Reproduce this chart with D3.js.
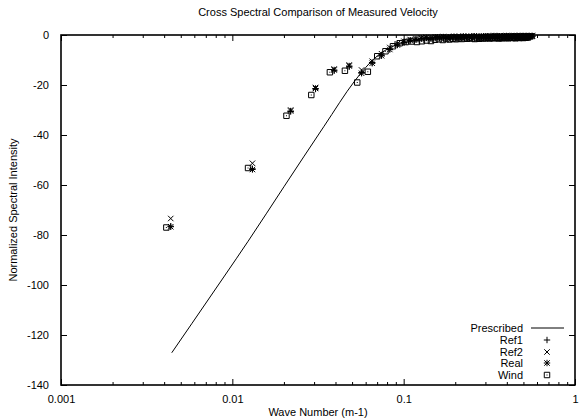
<!DOCTYPE html>
<html><head><meta charset="utf-8">
<script src="https://cdn.jsdelivr.net/npm/d3@7"></script>
<style>
body{margin:0;background:#fff}
text{font-family:"Liberation Sans",Arial,Helvetica,sans-serif;font-size:11px;fill:#000}
</style>
</head><body>
<svg id="chart" width="581" height="419"></svg>
<script>
// ---- data ----
const title = "Cross Spectral Comparison of Measured Velocity";
const xLabel = "Wave Number (m-1)";
const yLabel = "Normalized Spectral Intensity";
const xMajorTicks = [0.001, 0.01, 0.1, 1];
const xTickLabels = ["0.001", "0.01", "0.1", "1"];
const yTicks = [0, -20, -40, -60, -80, -100, -120, -140];
const seriesNames = ["Prescribed", "Ref1", "Ref2", "Real", "Wind"];

const presK = [0.00443, 0.00582, 0.00908, 0.01236, 0.0201, 0.0343, 0.0519, 0.0600, 0.0665, 0.0750, 0.0834, 0.1, 0.13, 0.18, 0.25, 0.35, 0.45, 0.56];
const presY = [-127.1, -115.3, -96.0, -82.5, -60.5, -36.5, -18.3, -13.0, -9.8, -6.9, -5.0, -3.0, -2.0, -1.4, -1.0, -0.8, -0.6, -0.5];

const kRef = [0.00437,0.0131,0.0219,0.0306,0.0393,0.0481,0.0568,0.0655,0.0743,0.0830,0.0918,0.1005,0.1092,0.1180,0.1267,0.1355,0.1442,0.1530,0.1617,0.1704,0.1792,0.1879,0.1967,0.2054,0.2142,0.2229,0.2316,0.2404,0.2491,0.2579,0.2666,0.2754,0.2841,0.2928,0.3016,0.3103,0.3191,0.3278,0.3366,0.3453,0.3540,0.3628,0.3715,0.3803,0.3890,0.3978,0.4065,0.4152,0.4240,0.4327,0.4415,0.4502,0.4590,0.4677,0.4764,0.4852,0.4939,0.5027,0.5114,0.5202,0.5289,0.5376,0.5464,0.5551,0.5639];
const kWind = [0.00412,0.01235,0.0207,0.0289,0.0371,0.0454,0.0536,0.0618,0.0701,0.0783,0.0866,0.0948,0.1030,0.1113,0.1195,0.1278,0.1360,0.1443,0.1525,0.1607,0.1690,0.1772,0.1855,0.1937,0.2020,0.2102,0.2184,0.2267,0.2349,0.2432,0.2514,0.2597,0.2679,0.2761,0.2844,0.2926,0.3009,0.3091,0.3174,0.3256,0.3338,0.3421,0.3503,0.3586,0.3668,0.3751,0.3833,0.3915,0.3998,0.4080,0.4163,0.4245,0.4328,0.4410,0.4492,0.4575,0.4657,0.4740,0.4822,0.4905,0.4987,0.5069,0.5152,0.5234,0.5317];

const ref1 = [-76.5,-53.5,-30.6,-21.6,-14.3,-12.7,-15.0,-11.0,-8.0,-5.6,-3.9,-2.9,-2.1,-1.7,
 -1.3,-1.1,-1.2,-0.9,-1.0,-0.8,-1.1,-0.9,-0.7,-1.0,-0.8,-0.6,-0.9,-0.7,-0.8,-0.5,-0.7,-0.9,-0.6,-0.8,
 -0.5,-0.7,-0.6,-0.8,-0.4,-0.6,-0.7,-0.5,-0.6,-0.8,-0.5,-0.4,-0.6,-0.7,-0.5,-0.6,-0.4,-0.5,-0.7,-0.6,
 -0.4,-0.5,-0.6,-0.4,-0.5,-0.6,-0.5,-0.4,-0.6,-0.5,-0.4];
const ref2 = [-73.4,-51.3,-30.0,-21.0,-13.6,-12.0,-14.0,-10.5,-7.5,-5.0,-3.5,-2.5,-1.8,-1.4,
 -1.1,-0.9,-1.0,-0.7,-0.8,-0.6,-0.9,-0.7,-0.5,-0.8,-0.6,-0.4,-0.7,-0.5,-0.6,-0.3,-0.5,-0.7,-0.4,-0.6,
 -0.3,-0.5,-0.4,-0.6,-0.2,-0.4,-0.5,-0.3,-0.4,-0.6,-0.3,-0.2,-0.4,-0.5,-0.3,-0.4,-0.2,-0.3,-0.5,-0.4,
 -0.2,-0.3,-0.4,-0.2,-0.3,-0.4,-0.3,-0.2,-0.4,-0.3,-0.2];
const real = [-76.7,-53.8,-30.4,-21.4,-14.0,-12.4,-15.3,-11.3,-8.3,-5.8,-4.0,-3.0,-2.2,-1.8,
 -1.4,-1.2,-1.3,-1.0,-1.1,-0.9,-1.2,-1.0,-0.8,-1.1,-0.9,-0.7,-1.0,-0.8,-0.9,-0.6,-0.8,-1.0,-0.7,-0.9,
 -0.6,-0.8,-0.7,-0.9,-0.5,-0.7,-0.8,-0.6,-0.7,-0.9,-0.6,-0.5,-0.7,-0.8,-0.6,-0.7,-0.5,-0.6,-0.8,-0.7,
 -0.5,-0.6,-0.7,-0.5,-0.6,-0.7,-0.6,-0.5,-0.7,-0.6,-0.5];
const wind = [-77.0,-53.2,-32.3,-24.0,-14.9,-14.3,-19.0,-14.7,-8.5,-6.5,-4.5,-3.3,-2.8,-2.6,
 -2.8,-2.5,-2.2,-2.4,-1.9,-1.7,-2.0,-1.6,-1.8,-1.5,-1.7,-1.4,-1.6,-1.3,-1.5,-1.2,-1.4,-1.6,-1.3,-1.5,
 -1.2,-1.4,-1.3,-1.1,-1.4,-1.2,-1.3,-1.1,-1.2,-1.4,-1.1,-1.3,-1.2,-1.0,-1.2,-1.3,-1.1,-1.0,-1.2,-1.1,
 -1.3,-1.0,-1.1,-1.2,-1.0,-1.1,-1.2,-1.0,-1.1,-0.9,-1.0];

// ---- layout ----
const svg = d3.select("#chart");
const L = 61, R = 575, T = 35, B = 385;
const x = d3.scaleLog().domain([0.001, 1]).range([L, R]);
const y = d3.scaleLinear().domain([-140, 0]).range([B, T]);

const zip = (ks, vs) => d3.range(Math.min(ks.length, vs.length)).map(i => ({k: ks[i], v: vs[i]}));

const allTicks = x.ticks();
const minorTicks = allTicks.filter(t => !xMajorTicks.some(m => Math.abs(m - t) / m < 1e-9));
const lblMap = new Map(xMajorTicks.map((t, i) => [t, xTickLabels[i]]));

function styleAxis(g) {
  g.select(".domain").remove();
  g.selectAll(".tick line").attr("stroke", "#000").attr("stroke-width", 1);
  g.selectAll("text").attr("font-family", '"Liberation Sans",Arial,sans-serif').attr("font-size", 11).attr("fill", "#000");
}

svg.append("g").attr("transform", `translate(0,${B})`)
  .call(d3.axisBottom(x).tickValues(xMajorTicks).tickSize(-6).tickPadding(10).tickFormat(d => lblMap.get(d)))
  .call(styleAxis);
svg.append("g").attr("transform", `translate(0,${B})`)
  .call(d3.axisBottom(x).tickValues(minorTicks).tickSize(-3).tickFormat(""))
  .call(styleAxis);
svg.append("g").attr("transform", `translate(0,${T})`)
  .call(d3.axisTop(x).tickValues(xMajorTicks).tickSize(-6).tickFormat(""))
  .call(styleAxis);
svg.append("g").attr("transform", `translate(0,${T})`)
  .call(d3.axisTop(x).tickValues(minorTicks).tickSize(-3).tickFormat(""))
  .call(styleAxis);
svg.append("g").attr("transform", `translate(${L},0)`)
  .call(d3.axisLeft(y).tickValues(yTicks).tickSize(-6).tickPadding(12).tickFormat(d => String(d)))
  .call(styleAxis);
svg.append("g").attr("transform", `translate(${R},0)`)
  .call(d3.axisRight(y).tickValues(yTicks).tickSize(-6).tickFormat(""))
  .call(styleAxis);

svg.append("rect").attr("x", L).attr("y", T).attr("width", R - L).attr("height", B - T)
  .attr("fill", "none").attr("stroke", "#000").attr("stroke-width", 1.6);

svg.append("text").attr("x", (L + R) / 2).attr("y", 16).attr("text-anchor", "middle").text(title);
svg.append("text").attr("x", (L + R) / 2).attr("y", 416).attr("text-anchor", "middle").text(xLabel);
svg.append("text").attr("transform", `translate(17,${(T + B) / 2}) rotate(-90)`).attr("text-anchor", "middle").text(yLabel);

const S = 3.2;
function plus(g, cx, cy) {
  g.append("path").attr("d", `M${cx - S},${cy}H${cx + S}M${cx},${cy - S}V${cy + S}`);
}
function cross(g, cx, cy) {
  const s = S * 0.85;
  g.append("path").attr("d", `M${cx - s},${cy - s}L${cx + s},${cy + s}M${cx - s},${cy + s}L${cx + s},${cy - s}`);
}
function star(g, cx, cy) { plus(g, cx, cy); cross(g, cx, cy); }
function box(g, cx, cy) {
  const s = S * 0.85;
  g.append("path").attr("d", `M${cx - s},${cy - s}H${cx + s}V${cy + s}H${cx - s}Z`);
  g.append("path").attr("d", `M${cx - 0.5},${cy}H${cx + 0.5}`);
}

const plotG = svg.append("g").attr("fill", "none").attr("stroke", "#000").attr("stroke-width", 1);

const line = d3.line().x(d => x(d.k)).y(d => y(d.v)).curve(d3.curveMonotoneX);
plotG.append("path").datum(zip(presK, presY)).attr("d", line).attr("stroke-width", 1);

const seriesDefs = [
  {data: zip(kRef, ref1), m: plus},
  {data: zip(kRef, ref2), m: cross},
  {data: zip(kRef, real), m: star},
  {data: zip(kWind, wind), m: box}
];
seriesDefs.forEach(s => {
  const g = plotG.append("g");
  s.data.forEach(d => s.m(g, x(d.k), y(d.v)));
});

const legX = 523, legY = [328, 340, 352, 363, 375];
const legMarkX = 547;
seriesNames.forEach((n, i) => {
  svg.append("text").attr("x", legX).attr("y", legY[i] + 4).attr("text-anchor", "end").text(n);
});
plotG.append("line").attr("x1", 531).attr("x2", 564).attr("y1", legY[0]).attr("y2", legY[0]);
const lg = plotG.append("g");
plus(lg, legMarkX, legY[1]);
cross(lg, legMarkX, legY[2]);
star(lg, legMarkX, legY[3]);
box(lg, legMarkX, legY[4]);
</script>
</body></html>
